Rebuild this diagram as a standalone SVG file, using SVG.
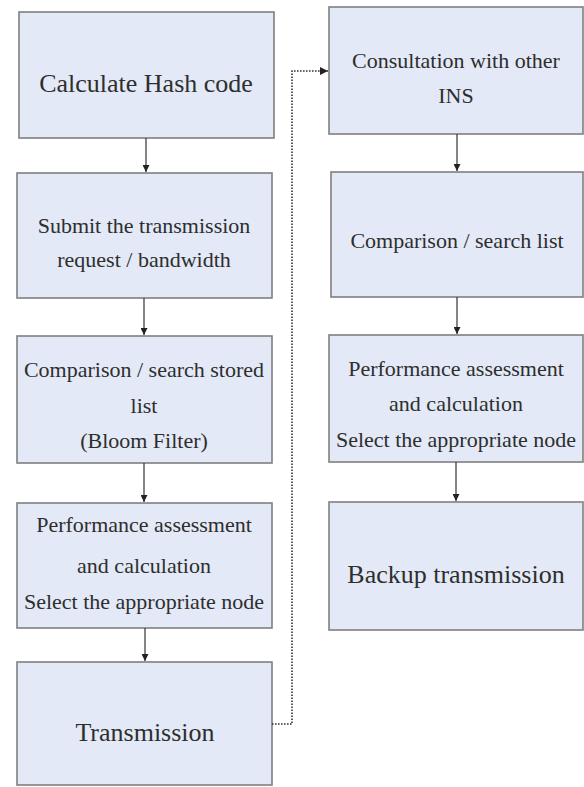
<svg xmlns="http://www.w3.org/2000/svg" width="584" height="787" viewBox="0 0 584 787" font-family="Liberation Serif, Times New Roman, Times, DejaVu Serif, serif">
<style>
.box{fill:#e3e9f6;stroke:#7f7f7f;stroke-width:1.6}
.t{font-size:22px;fill:#2e2e2e;text-anchor:middle}
.big{font-size:26px}
.ln{stroke:#333;stroke-width:1.2;fill:none}
.dot{stroke:#333;stroke-width:1.6;stroke-dasharray:1.6 1.4;fill:none}
</style>
<defs>
<marker id="ah" viewBox="0 0 10 10" refX="10" refY="5" markerWidth="7" markerHeight="7" orient="auto" markerUnits="userSpaceOnUse">
<path d="M0,0 L10,5 L0,10 z" fill="#222"/>
</marker>
<marker id="ah2" viewBox="0 0 10 10" refX="10" refY="5" markerWidth="9" markerHeight="8" orient="auto" markerUnits="userSpaceOnUse">
<path d="M0,0 L10,5 L0,10 z" fill="#222"/>
</marker>
</defs>
<rect width="584" height="787" fill="#ffffff"/>
<g id="n1"><rect class="box" x="19" y="12" width="255" height="126"/><text class="t big" x="146" y="92" font-family="Liberation Serif">Calculate Hash code</text></g>
<g id="n2"><rect class="box" x="17" y="173" width="255" height="125"/><text class="t" x="144" y="233">Submit the transmission</text><text class="t" x="144" y="267">request / bandwidth</text></g>
<g id="n3"><rect class="box" x="17" y="336" width="255" height="127"/><text class="t" x="144" y="377">Comparison / search stored</text><text class="t" x="144" y="413">list</text><text class="t" x="144" y="448">(Bloom Filter)</text></g>
<g id="n4"><rect class="box" x="17" y="503" width="255" height="125"/><text class="t" x="144" y="532">Performance assessment</text><text class="t" x="144" y="573">and calculation</text><text class="t" x="144" y="609">Select the appropriate node</text></g>
<g id="n5"><rect class="box" x="17" y="662" width="255" height="123"/><text class="t big" x="145" y="741">Transmission</text></g>
<g id="n6"><rect class="box" x="329" y="7" width="254" height="127"/><text class="t" x="456" y="68">Consultation with other</text><text class="t" x="456" y="103">INS</text></g>
<g id="n7"><rect class="box" x="331" y="172" width="252" height="125"/><text class="t" x="457" y="248">Comparison / search list</text></g>
<g id="n8"><rect class="box" x="329" y="335" width="254" height="127"/><text class="t" x="456" y="376">Performance assessment</text><text class="t" x="456" y="411">and calculation</text><text class="t" x="456" y="447">Select the appropriate node</text></g>
<g id="n9"><rect class="box" x="329" y="502" width="254" height="128"/><text class="t big" x="456" y="583">Backup transmission</text></g>
<g id="connectors">
<line class="ln" x1="146" y1="138" x2="146" y2="172" marker-end="url(#ah)"/>
<line class="ln" x1="144" y1="298" x2="144" y2="335" marker-end="url(#ah)"/>
<line class="ln" x1="144" y1="463" x2="144" y2="502" marker-end="url(#ah)"/>
<line class="ln" x1="145" y1="628" x2="145" y2="661" marker-end="url(#ah)"/>
<line class="ln" x1="457" y1="134" x2="457" y2="171" marker-end="url(#ah)"/>
<line class="ln" x1="457" y1="297" x2="457" y2="334" marker-end="url(#ah)"/>
<line class="ln" x1="456" y1="462" x2="456" y2="501" marker-end="url(#ah)"/>
<path class="dot" d="M272,724 H292 V71 H328" marker-end="url(#ah2)"/>
</g>
</svg>
